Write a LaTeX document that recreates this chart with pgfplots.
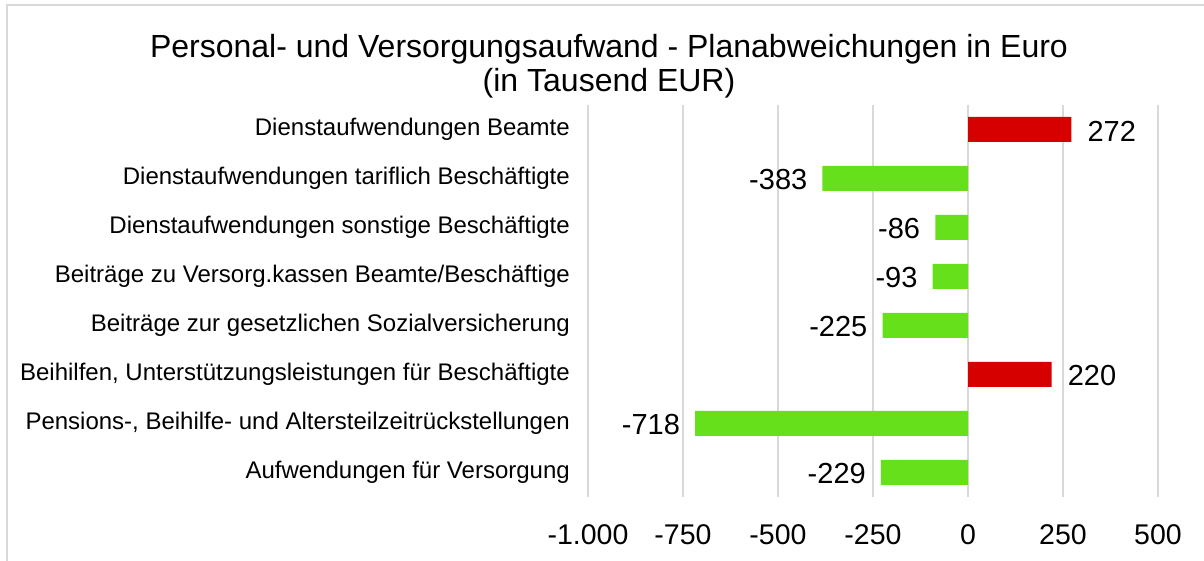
\documentclass[border=0pt]{standalone}
\usepackage{fontspec}
\setmainfont{Liberation Sans}
\usepackage{pgfplots}
\pgfplotsset{compat=1.18}
\definecolor{barred}{RGB}{214,0,0}
\definecolor{bargreen}{RGB}{102,224,26}
\definecolor{gridgray}{RGB}{217,217,217}
\begin{document}
\begin{tikzpicture}[x=1bp,y=1bp]
\useasboundingbox (0,0) rectangle (1204,561);
\draw[gridgray, line width=1.5bp] (7,0) -- (7,556) -- (1204,556);
\node[anchor=base, inner sep=0pt, font=\fontsize{32bp}{38bp}\selectfont] at (609,503) {Personal- und Versorgungsaufwand - Planabweichungen in Euro};
\node[anchor=base, inner sep=0pt, font=\fontsize{32bp}{38bp}\selectfont] at (609,469) {(in Tausend EUR)};
\begin{axis}[
  at={(588bp,64bp)}, anchor=south west,
  width=570bp, height=392bp, scale only axis,
  xmin=-1000, xmax=500, ymin=-0.5, ymax=7.5,
  y dir=reverse,
  xtick={-1000,-750,-500,-250,0,250,500},
  xticklabels={-1.000,-750,-500,-250,0,250,500},
  ytick={0,1,2,3,4,5,6,7},
  yticklabels={Dienstaufwendungen Beamte,Dienstaufwendungen tariflich Beschäftigte,Dienstaufwendungen sonstige Beschäftigte,Beiträge zu Versorg.kassen Beamte/Beschäftige,Beiträge zur gesetzlichen Sozialversicherung,{Beihilfen, Unterstützungsleistungen für Beschäftigte},{Pensions-, Beihilfe- und Altersteilzeitrückstellungen},Aufwendungen für Versorgung},
  xticklabel style={font=\fontsize{28.5bp}{34bp}\selectfont, inner sep=0pt, yshift=-27bp},
  yticklabel style={font=\fontsize{24bp}{29bp}\selectfont, inner sep=0pt, xshift=-18bp},
  xmajorgrids, grid style={gridgray, line width=1.3bp},
  axis line style={draw=none},
  major tick length=0pt, tick style={draw=none},
  xbar, bar width=25bp, bar shift=0pt,
  clip=false,
]
\addplot[fill=barred, draw=none, nodes near coords, point meta=explicit symbolic,
  every node near coord/.append style={anchor=west, inner xsep=16bp, inner ysep=0pt, yshift=-1.5bp, font=\fontsize{29bp}{35bp}\selectfont}]
  coordinates {(272,0) [272] (220,5) [220]};
\addplot[fill=bargreen, draw=none, nodes near coords, point meta=explicit symbolic,
  every node near coord/.append style={anchor=east, inner xsep=15bp, inner ysep=0pt, yshift=-1.5bp, font=\fontsize{29bp}{35bp}\selectfont}]
  coordinates {(-383,1) [-383] (-86,2) [-86] (-93,3) [-93] (-225,4) [-225] (-718,6) [-718] (-229,7) [-229]};
\end{axis}
\end{tikzpicture}
\end{document}
